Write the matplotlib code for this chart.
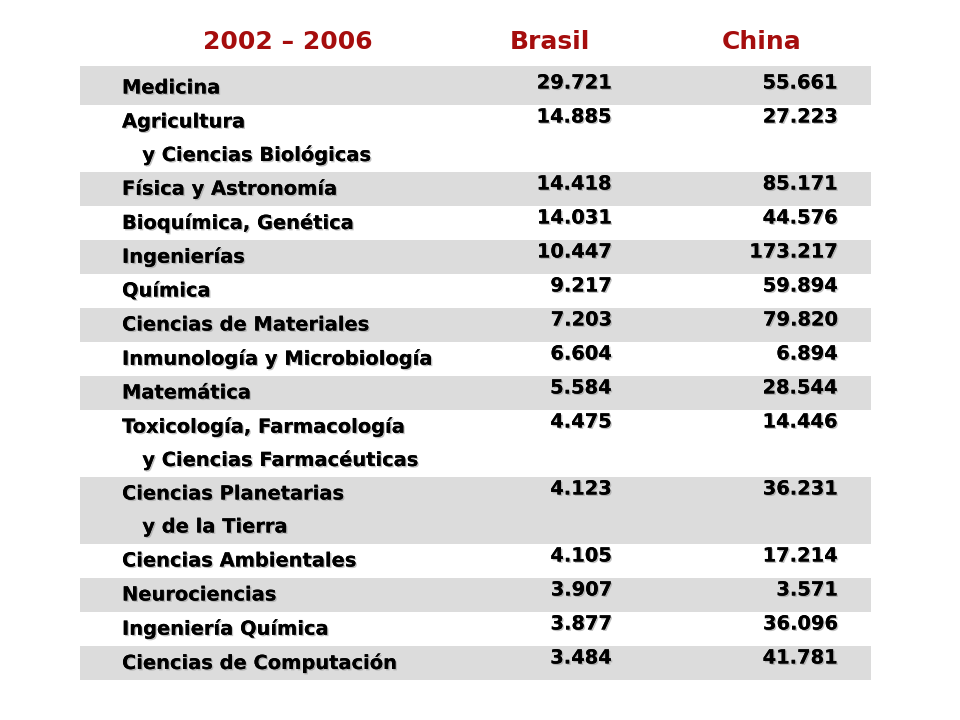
import matplotlib
matplotlib.use("Agg")
import matplotlib.pyplot as plt
import matplotlib.patheffects as pe

header = ["2002 – 2006", "Brasil", "China"]
labels = [
    ["Medicina"],
    ["Agricultura", "   y Ciencias Biológicas"],
    ["Física y Astronomía"],
    ["Bioquímica, Genética"],
    ["Ingenierías"],
    ["Química"],
    ["Ciencias de Materiales"],
    ["Inmunología y Microbiología"],
    ["Matemática"],
    ["Toxicología, Farmacología", "   y Ciencias Farmacéuticas"],
    ["Ciencias Planetarias", "   y de la Tierra"],
    ["Ciencias Ambientales"],
    ["Neurociencias"],
    ["Ingeniería Química"],
    ["Ciencias de Computación"],
]
brasil = ["29.721", "14.885", "14.418", "14.031", "10.447", "9.217", "7.203",
          "6.604", "5.584", "4.475", "4.123", "4.105", "3.907", "3.877", "3.484"]
china = ["55.661", "27.223", "85.171", "44.576", "173.217", "59.894", "79.820",
         "6.894", "28.544", "14.446", "36.231", "17.214", "3.571", "36.096", "41.781"]

W, H = 960, 720
fig = plt.figure(figsize=(9.6, 7.2), dpi=100)
ax = fig.add_axes([0, 0, 1, 1])
ax.set_xlim(0, W)
ax.set_ylim(H, 0)
ax.axis("off")

shadow = [pe.withSimplePatchShadow(offset=(1, -1), shadow_rgbFace="#999999", alpha=0.6), pe.Normal()]
red = "#a50d0d"
for txt, x in zip(header, [288, 550, 762]):
    ax.text(x, 42, txt, ha="center", va="center", fontsize=18, fontweight="bold",
            color=red, family="DejaVu Sans")

line_h = 33.0
top = 71
y = top
for i, (lab, b, c) in enumerate(zip(labels, brasil, china)):
    n = len(lab)
    h = n * line_h + 1
    if i % 2 == 0:
        ax.add_patch(plt.Rectangle((80, y - 5 if i == 0 else y), 791, h + (5 if i == 0 else 0),
                                   color="#dcdcdc", lw=0))
    for k, l in enumerate(lab):
        ax.text(122, y + 17 + k * line_h, l, ha="left", va="center", fontsize=14,
                fontweight="bold", family="DejaVu Sans", path_effects=shadow)
    ax.text(612, y + 12, b, ha="right", va="center", fontsize=14, fontweight="bold",
            family="DejaVu Sans", path_effects=shadow)
    ax.text(838, y + 12, c, ha="right", va="center", fontsize=14, fontweight="bold",
            family="DejaVu Sans", path_effects=shadow)
    y += h

fig.savefig("out.png", dpi=100)
